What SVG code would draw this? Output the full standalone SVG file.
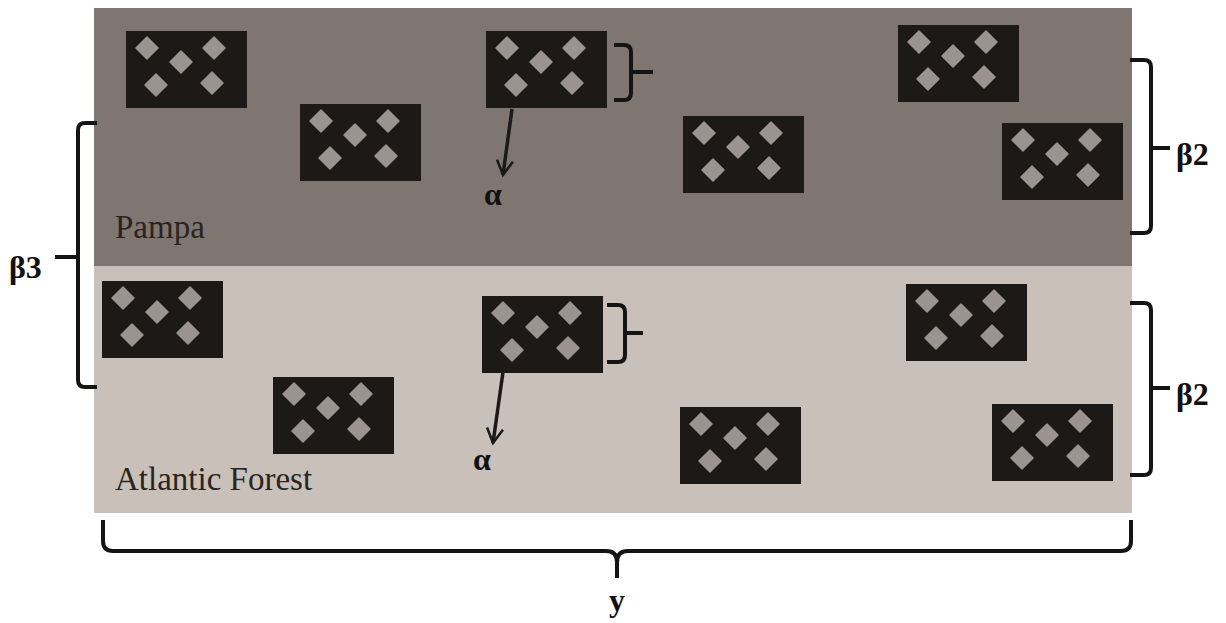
<svg xmlns="http://www.w3.org/2000/svg" xmlns:xlink="http://www.w3.org/1999/xlink" width="1226" height="623" viewBox="0 0 1226 623">
<style>
.brace{fill:none;stroke:#141414;stroke-width:4;stroke-linejoin:round;stroke-linecap:butt}
.arrow{fill:none;stroke:#1a1a1a;stroke-width:3.5}
.lbl{font-family:"Liberation Serif",serif;font-weight:bold;font-size:32px;fill:#111}
.region{font-family:"Liberation Serif",serif;font-size:33px;fill:#2a2420}
.box{fill:#1c1917}
.dia{fill:#9b938f;stroke:#9b938f;stroke-width:1.5;stroke-linejoin:round}
</style>
<defs>
<g id="patch">
<rect class="box" x="0" y="0" width="121" height="77"/>
<polygon class="dia" points="21,6 32,17 21,28 10,17"/>
<polygon class="dia" points="55,20 66,31 55,42 44,31"/>
<polygon class="dia" points="88,6 99,17 88,28 77,17"/>
<polygon class="dia" points="30,43 41,54 30,65 19,54"/>
<polygon class="dia" points="86,41 97,52 86,63 75,52"/>
</g>
<marker id="head" viewBox="0 0 12 12" refX="10" refY="6" markerWidth="5.5" markerHeight="5.5" orient="auto" markerUnits="strokeWidth">
<path d="M1,1 L10,6 L1,11" fill="none" stroke="#1a1a1a" stroke-width="1.6"/>
</marker>
</defs>
<rect x="0" y="0" width="1226" height="623" fill="#ffffff"/>
<g id="pampa">
<rect x="94" y="8" width="1038" height="258" fill="#7f7672"/>
<text class="region" x="115" y="238">Pampa</text>
</g>
<g id="atlantic-forest">
<rect x="94" y="266" width="1038" height="247" fill="#c9c0ba"/>
<text class="region" x="115" y="490">Atlantic Forest</text>
</g>
<g id="p1"><use xlink:href="#patch" x="126" y="31"/></g>
<g id="p2"><use xlink:href="#patch" x="300" y="104"/></g>
<g id="p3"><use xlink:href="#patch" x="486" y="31"/></g>
<g id="p4"><use xlink:href="#patch" x="683" y="116"/></g>
<g id="p5"><use xlink:href="#patch" x="898" y="25"/></g>
<g id="p6"><use xlink:href="#patch" x="1002" y="123"/></g>
<g id="a1"><use xlink:href="#patch" x="102" y="281"/></g>
<g id="a2"><use xlink:href="#patch" x="273" y="377"/></g>
<g id="a3"><use xlink:href="#patch" x="482" y="296"/></g>
<g id="a4"><use xlink:href="#patch" x="680" y="407"/></g>
<g id="a5"><use xlink:href="#patch" x="906" y="284"/></g>
<g id="a6"><use xlink:href="#patch" x="992" y="404"/></g>
<g id="connectors">
<path class="brace" d="M614,45 L624,45 Q631,45 631,52 L631,93 Q631,100 624,100 L614,100 M631,72 L653,72"/>
<path class="brace" d="M607,305 L618,305 Q625,305 625,312 L625,355 Q625,362 618,362 L607,362 M625,333 L643,333"/>
<path class="brace" d="M1130,60 L1144,60 Q1151,60 1151,67 L1151,226 Q1151,233 1144,233 L1130,233 M1151,148 L1170,148"/>
<path class="brace" d="M1130,303 L1144,303 Q1151,303 1151,310 L1151,468 Q1151,475 1144,475 L1130,475 M1151,388 L1170,388"/>
<path class="brace" d="M97,123 L85,123 Q78,123 78,130 L78,380 Q78,387 85,387 L97,387 M78,257 L55,257"/>
<path class="brace" d="M103,520 L103,541 Q103,551 113,551 L606,551 Q617,551 617,562 L617,578 M617,562 Q617,551 628,551 L1121,551 Q1131,551 1131,541 L1131,520"/>
<line class="arrow" x1="512" y1="109" x2="503" y2="175" marker-end="url(#head)"/>
<line class="arrow" x1="503" y1="372" x2="493" y2="443" marker-end="url(#head)"/>
</g>
<g id="labels">
<text class="lbl" x="484" y="205">α</text>
<text class="lbl" x="473" y="470">α</text>
<text class="lbl" x="9" y="278">β3</text>
<text class="lbl" x="1176" y="165">β2</text>
<text class="lbl" x="1176" y="405">β2</text>
<text class="lbl" x="617" y="611" text-anchor="middle">y</text>
</g>
</svg>
